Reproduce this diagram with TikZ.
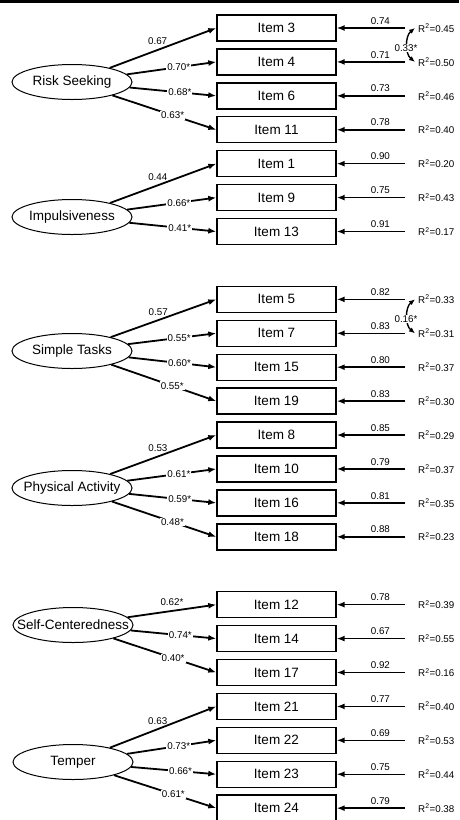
\documentclass[tikz,border=0pt]{standalone}
\usepackage{fontspec}
\setmainfont{Liberation Sans}
\usetikzlibrary{arrows.meta,shapes.geometric}

\begin{document}
\begin{tikzpicture}[x=1pt, y=-1pt,
    item/.style={draw, line width=1.4pt, minimum width=119pt, minimum height=26pt,
                 inner sep=0pt, font=\fontsize{13.5}{15}\selectfont},
    latent/.style={draw, ellipse, line width=1pt, minimum width=120pt, minimum height=35pt,
                   inner sep=0pt, font=\fontsize{13.5}{15}\selectfont},
    load/.style={-{Latex[length=8pt,width=6pt]}, line width=1.8pt},
    err/.style={-{Latex[length=8pt,width=6pt]}, line width=1.5pt},
    corr/.style={{Latex[length=6pt,width=5pt]}-{Latex[length=6pt,width=5pt]}, line width=1.4pt},
    num/.style={font=\fontsize{9.8}{11}\selectfont, inner sep=1pt},
    onl/.style={num, pos=0.58, fill=white}]
  \useasboundingbox (0,0) rectangle (459,820);
  % rule at the top
  \fill (0,0) rectangle (459,3);

  % observed items, their error terms and R^2
  \foreach \n/\r/\e/\rsq in {3/0/0.74/0.45, 4/1/0.71/0.50, 6/2/0.73/0.46, 11/3/0.78/0.40,
      1/4/0.90/0.20, 9/5/0.75/0.43, 13/6/0.91/0.17,
      5/8/0.82/0.33, 7/9/0.83/0.31, 15/10/0.80/0.37, 19/11/0.83/0.30,
      8/12/0.85/0.29, 10/13/0.79/0.37, 16/14/0.81/0.35, 18/15/0.88/0.23,
      12/17/0.78/0.39, 14/18/0.67/0.55, 17/19/0.92/0.16,
      21/20/0.77/0.40, 22/21/0.69/0.53, 23/22/0.75/0.44, 24/23/0.79/0.38} {
    \node[item] (i\n) at (276.5,{28+33.92*\r}) {Item \n};
    \coordinate (e\n) at (405,{28+33.92*\r});
    \node[num, anchor=west] (r\n) at (417,{28+33.92*\r}) {R\textsuperscript{2}=\rsq};
    \draw[err] (e\n) -- node[num, above=2pt, pos=0.36] {\e} (i\n.east);
  }

  % latent factors
  \node[latent] (rs)  at (72,82)  {\makebox[0pt]{Risk Seeking}};
  \node[latent] (imp) at (72,217) {\makebox[0pt]{Impulsiveness}};
  \node[latent] (st)  at (72,351) {\makebox[0pt]{Simple Tasks}};
  \node[latent] (pa)  at (72,488) {\makebox[0pt]{Physical Activity}};
  \node[latent] (sc)  at (73,625) {\makebox[0pt]{Self-Centeredness}};
  \node[latent] (tmp) at (73,762) {\makebox[0pt]{Temper}};

  % loadings
  \draw[load] (rs) -- node[num, pos=0.45, above=3pt] {0.67} (i3.west);
  \foreach \n/\l in {4/0.70*, 6/0.68*, 11/0.63*}
    \draw[load] (rs) -- node[onl] {\l} (i\n.west);

  \draw[load] (imp) -- node[num, pos=0.45, above=3pt] {0.44} (i1.west);
  \foreach \n/\l in {9/0.66*, 13/0.41*}
    \draw[load] (imp) -- node[onl] {\l} (i\n.west);

  \draw[load] (st) -- node[num, pos=0.45, above=3pt] {0.57} (i5.west);
  \foreach \n/\l in {7/0.55*, 15/0.60*, 19/0.55*}
    \draw[load] (st) -- node[onl] {\l} (i\n.west);

  \draw[load] (pa) -- node[num, pos=0.45, above=3pt] {0.53} (i8.west);
  \foreach \n/\l in {10/0.61*, 16/0.59*, 18/0.48*}
    \draw[load] (pa) -- node[onl] {\l} (i\n.west);

  \draw[load] (sc) -- node[num, pos=0.5, above=3pt] {0.62*} (i12.west);
  \foreach \n/\l in {14/0.74*, 17/0.40*}
    \draw[load] (sc) -- node[onl] {\l} (i\n.west);

  \draw[load] (tmp) -- node[num, pos=0.45, above=3pt] {0.63} (i21.west);
  \foreach \n/\l in {22/0.73*, 23/0.66*, 24/0.61*}
    \draw[load] (tmp) -- node[onl] {\l} (i\n.west);

  % correlated errors
  \draw[corr] ([xshift=-2pt]r3.west) .. controls +(-10,8) and +(-10,-8) ..
    node[num, fill=white, inner sep=0.5pt, xshift=-1.5pt, yshift=-3pt] {0.33*} ([xshift=-2pt]r4.west);
  \draw[corr] ([xshift=-2pt]r5.west) .. controls +(-10,8) and +(-10,-8) ..
    node[num, fill=white, inner sep=0.5pt, xshift=-1.5pt, yshift=-3pt] {0.16*} ([xshift=-2pt]r7.west);
\end{tikzpicture}
\end{document}
